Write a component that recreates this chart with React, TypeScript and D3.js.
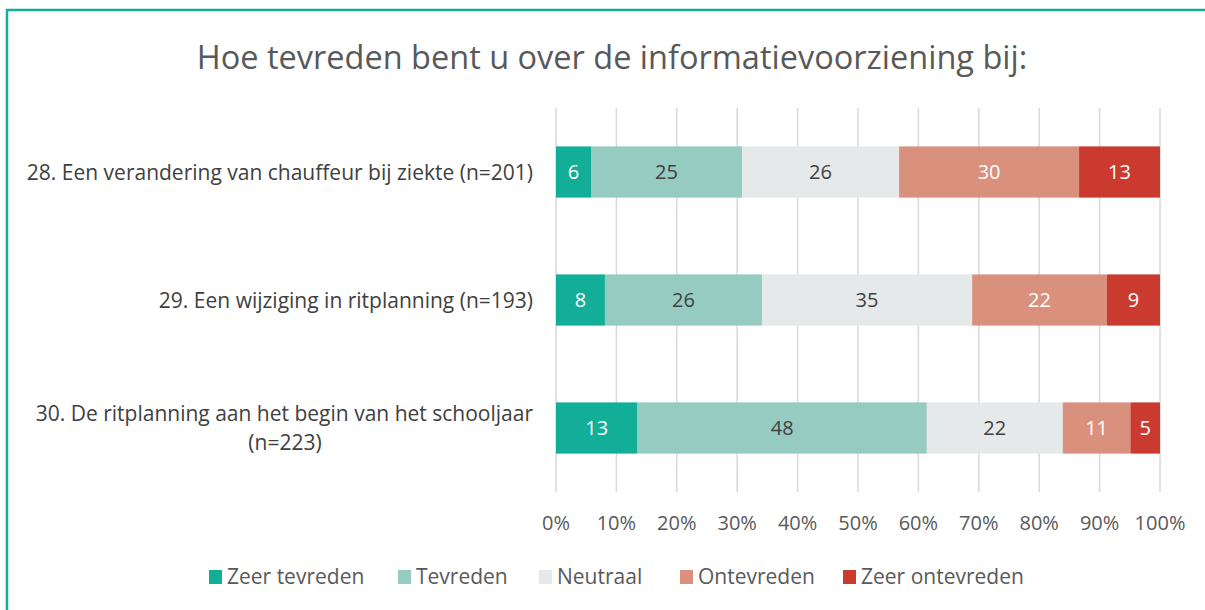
import React from "react";
import * as d3 from "d3";

const categories = [
  ["28. Een verandering van chauffeur bij ziekte (n=201)"],
  ["29. Een wijziging in ritplanning (n=193)"],
  ["30. De ritplanning aan het begin van het schooljaar", "(n=223)"],
];
const seriesNames = ["Zeer tevreden", "Tevreden", "Neutraal", "Ontevreden", "Zeer ontevreden"];
const seriesColors = ["#12AE98", "#96CBC2", "#E6E9EA", "#D9917D", "#CB3A2F"];
const labelColors = ["#FFFFFF", "#404040", "#404040", "#FFFFFF", "#FFFFFF"];
const zeerTevreden = [5.8, 8.1, 13.5];
const tevreden = [25.0, 26.0, 47.9];
const neutraal = [26.0, 34.8, 22.5];
const ontevreden = [29.8, 22.3, 11.2];
const zeerOntevreden = [13.4, 8.8, 4.9];
const labelsRow = [
  [6, 25, 26, 30, 13],
  [8, 26, 35, 22, 9],
  [13, 48, 22, 11, 5],
];
const ticks = [0, 10, 20, 30, 40, 50, 60, 70, 80, 90, 100];

const FONT = "'Open Sans', 'Noto Sans', sans-serif";

export default function App() {
  const W = 1205, H = 610;
  const x = d3.scaleLinear().domain([0, 100]).range([556, 1160]);
  const y = d3.scaleBand().domain(["0", "1", "2"]).range([108, 492]).paddingInner(0.6).paddingOuter(0.3);
  const series = [zeerTevreden, tevreden, neutraal, ontevreden, zeerOntevreden];
  const legendX = [209, 398, 539, 680, 843];

  return (
    <svg width={W} height={H} style={{ position: "absolute", left: 0, top: 0 }} fontFamily={FONT}>
      <rect x={0} y={0} width={W} height={H} fill="#fff" />
      <path d={`M7,${H} L7,10 L${W},10`} fill="none" stroke="#12AE98" strokeWidth={2.5} />
      <text x={612} y={69} textAnchor="middle" fontSize={32.5} fill="#595959">
        Hoe tevreden bent u over de informatievoorziening bij:
      </text>
      {ticks.map((t) => (
        <g key={t}>
          <line x1={x(t)} x2={x(t)} y1={108} y2={492} stroke="#D9D9D9" strokeWidth={1.5} />
          <text x={x(t)} y={530} textAnchor="middle" fontSize={20} fill="#595959">
            {t}%
          </text>
        </g>
      ))}
      {categories.map((cat, i) => {
        const yy = y(String(i))!;
        const bh = y.bandwidth();
        let cum = 0;
        return (
          <g key={i}>
            {series.map((s, k) => {
              const x0 = x(cum);
              cum += s[i];
              const x1 = x(cum);
              return (
                <g key={k}>
                  <rect x={x0} y={yy} width={x1 - x0} height={bh} fill={seriesColors[k]} />
                  <text x={(x0 + x1) / 2} y={yy + bh / 2 + 7} textAnchor="middle" fontSize={20} fill={labelColors[k]}>
                    {labelsRow[i][k]}
                  </text>
                </g>
              );
            })}
            {cat.length === 1 ? (
              <text x={533} y={yy + bh / 2 + 7.5} textAnchor="end" fontSize={21} fill="#404040">
                {cat[0]}
              </text>
            ) : (
              <g>
                <text x={533} y={yy + bh / 2 - 7.5} textAnchor="end" fontSize={21} fill="#404040">
                  {cat[0]}
                </text>
                <text x={285} y={yy + bh / 2 + 21.5} textAnchor="middle" fontSize={21} fill="#404040">
                  {cat[1]}
                </text>
              </g>
            )}
          </g>
        );
      })}
      {seriesNames.map((n, k) => (
        <g key={n}>
          <rect x={legendX[k]} y={570} width={13} height={14} fill={seriesColors[k]} />
          <text x={legendX[k] + 18} y={584} fontSize={21} fill="#595959">
            {n}
          </text>
        </g>
      ))}
    </svg>
  );
}
